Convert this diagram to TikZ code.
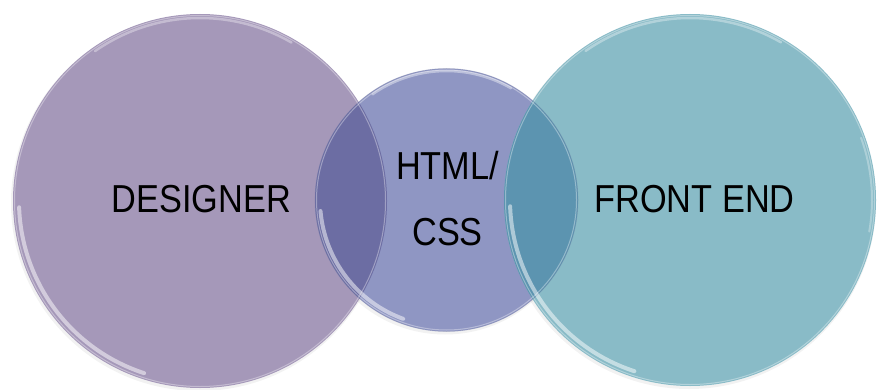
\documentclass[tikz,border=0pt]{standalone}
\usepackage{fontspec}
\newfontfamily\condfont[FakeStretch=0.88]{Liberation Sans}
\definecolor{cpurple}{HTML}{A598B9}
\definecolor{cmid}{HTML}{8F96C3}
\definecolor{cteal}{HTML}{89BBC7}
\definecolor{clm}{HTML}{6C6DA3}
\definecolor{cmr}{HTML}{5C94B0}
\tikzset{
  ring/.style={circle, inner sep=0pt, outer sep=0pt},
  label/.style={font=\condfont\fontsize{39}{66}\selectfont, text=black, align=center},
  gloss/.style={white, line width=4pt, opacity=0.5, line cap=round},
  rim/.style={white, line width=1pt, opacity=0.35}
}
\begin{document}
\begin{tikzpicture}[x=1pt,y=-1pt]
\useasboundingbox (0,0) rectangle (877,390);
\fill[white] (0,0) rectangle (877,390);
% soft shadows
\fill[black, opacity=0.05] (199,203) circle (188);
\fill[black, opacity=0.05] (445,202) circle (132.5);
\fill[black, opacity=0.05] (689,202) circle (187);
% circles
\node[ring, fill=cpurple, minimum size=374pt] (L) at (200,201) {};
\node[ring, fill=cmid, minimum size=263pt] (M) at (446.5,200) {};
\node[ring, fill=cteal, minimum size=372pt] (R) at (690,200) {};
% overlaps
\begin{scope}
  \clip (200,201) circle (187);
  \fill[clm] (446.5,200) circle (131.5);
\end{scope}
\begin{scope}
  \clip (446.5,200) circle (131.5);
  \fill[cmr] (690,200) circle (186);
\end{scope}
% rims
\draw[rim] (200,201) circle (185.5);
\draw[rim] (446.5,200) circle (130);
\draw[rim] (690,200) circle (184.5);
\draw[cmid!80!black, opacity=0.3, line width=0.6pt] (446.5,200) circle (131.5);
% glossy highlights (y axis points down: 105-180 is lower left)
\draw[gloss] (200,201) ++(108:181) arc (108:178:181);
\draw[gloss, opacity=0.35, line width=2.5pt] (200,201) ++(235:183) arc (235:300:183);
\draw[gloss] (446.5,200) ++(110:126.5) arc (110:175:126.5);
\draw[gloss, opacity=0.4, line width=2.5pt] (446.5,200) ++(235:129) arc (235:300:129);
\draw[gloss] (690,200) ++(108:180) arc (108:178:180);
\draw[gloss, opacity=0.35, line width=2.5pt] (690,200) ++(235:182) arc (235:300:182);
\draw[gloss, opacity=0.3, line width=2pt] (690,200) ++(340:182) arc (340:370:182);
% labels
\node[label] (tL) at (201.5,199.5) {DESIGNER};
\node[label] (tM) at (447.5,198.5) {HTML/\\CSS};
\node[label] (tR) at (694.5,199.5) {FRONT END};
\end{tikzpicture}
\end{document}
